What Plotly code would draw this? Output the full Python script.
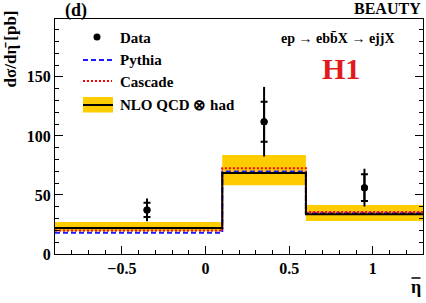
import plotly.graph_objects as go

# ---- data ----
bin_edges = [-0.9, 0.1, 0.6, 1.3]
data_x = [-0.35, 0.35, 0.95]
data_y = [37.3, 112.0, 56.2]
data_stat = [6.0, 17.0, 11.3]
data_tot = [9.6, 29.5, 16.0]
nlo = [22.0, 68.6, 33.6]
nlo_up = [27.2, 83.9, 41.5]
nlo_lo = [19.2, 58.3, 28.0]
pythia = [18.0, 69.8, 34.5]
cascade = [20.0, 72.6, 35.6]

W, H = 426, 303
ML, MR, MT, MB = 55, 3, 19, 49
PW, PH = W - ML - MR, H - MT - MB
FONT = "Liberation Serif"


def step(vals):
    return list(vals) + [vals[-1]]


def px(x):
    return (x - ML) / PW


def py(y):
    return (H - MB - y) / PH


fig = go.Figure()

# NLO uncertainty band
fig.add_trace(go.Scatter(x=bin_edges, y=step(nlo_up), mode="lines", line=dict(width=0, shape="hv", color="#FFCC00"),
                         showlegend=False, hoverinfo="skip"))
fig.add_trace(go.Scatter(x=bin_edges, y=step(nlo_lo), mode="lines", line=dict(width=0, shape="hv", color="#FFCC00"),
                         fill="tonexty", fillcolor="#FFCC00", showlegend=False, hoverinfo="skip"))
# Pythia
fig.add_trace(go.Scatter(x=bin_edges, y=step(pythia), mode="lines",
                         line=dict(color="#1a1aff", width=2, dash="5px,3px", shape="hv"), showlegend=False))
# Cascade
fig.add_trace(go.Scatter(x=bin_edges, y=step(cascade), mode="lines",
                         line=dict(color="#ff0000", width=2, dash="2px,2px", shape="hv"), showlegend=False))
# NLO central
fig.add_trace(go.Scatter(x=bin_edges, y=step(nlo), mode="lines",
                         line=dict(color="black", width=2, shape="hv"), showlegend=False))
# Data: total errors
fig.add_trace(go.Scatter(x=data_x, y=data_y, mode="markers",
                         marker=dict(color="black", size=7),
                         error_y=dict(type="data", array=data_tot, width=0, thickness=2, color="black"),
                         showlegend=False))
# Data: stat errors
fig.add_trace(go.Scatter(x=data_x, y=data_y, mode="markers",
                         marker=dict(color="black", size=7),
                         error_y=dict(type="data", array=data_stat, width=3.5, thickness=2, color="black"),
                         showlegend=False))

tickfont = dict(family=FONT, size=16, color="black", weight="bold")

fig.update_xaxes(range=[-0.9, 1.3], showline=True, linecolor="black", linewidth=1, mirror=True,
                 ticks="inside", ticklen=8, tickcolor="black", dtick=0.5, tick0=0,
                 minor=dict(ticks="inside", ticklen=4, dtick=0.1, tickcolor="black"),
                 showgrid=False, zeroline=False, tickfont=tickfont)
fig.update_yaxes(range=[0, 199], showline=True, linecolor="black", linewidth=1, mirror="allticks",
                 ticks="inside", ticklen=8, tickcolor="black", dtick=50, tick0=0,
                 minor=dict(ticks="inside", ticklen=4, dtick=10, tickcolor="black"),
                 showgrid=False, zeroline=False, tickfont=tickfont)

ann = []
bold = dict(family=FONT, color="black", weight="bold")
ann.append(dict(text="(d)", x=px(63), y=py(10), xanchor="left", yanchor="middle",
                font=dict(size=18, **bold)))
ann.append(dict(text="BEAUTY", x=px(423), y=py(8), xanchor="right", yanchor="middle",
                font=dict(size=16, **bold)))
ann.append(dict(text="ep → ebb\u0304X → ejjX", x=px(338), y=py(38), xanchor="center", yanchor="middle",
                font=dict(size=14, **bold)))
ann.append(dict(text="H1", x=px(340.5), y=py(68), xanchor="center", yanchor="middle",
                font=dict(family=FONT, size=30, color="#e31a1c", weight="bold")))
ann.append(dict(text="\u03b7", x=px(416), y=py(287), xanchor="center", yanchor="middle",
                font=dict(size=18, **bold)))
ann.append(dict(text="dσ/dη\u0304 [pb]", x=px(10), y=py(9), xanchor="center", yanchor="top",
                textangle=-90, font=dict(size=17, **bold)))
# legend texts
leg_text_x = px(118)
ann.append(dict(text="Data", x=leg_text_x, y=py(38), xanchor="left", yanchor="middle", font=dict(size=15, **bold)))
ann.append(dict(text="Pythia", x=leg_text_x, y=py(60), xanchor="left", yanchor="middle", font=dict(size=15, **bold)))
ann.append(dict(text="Cascade", x=leg_text_x, y=py(82), xanchor="left", yanchor="middle", font=dict(size=15, **bold)))
ann.append(dict(text="NLO QCD ⊗ had", x=leg_text_x, y=py(105), xanchor="left", yanchor="middle", font=dict(size=15, **bold)))
for a in ann:
    a.update(xref="paper", yref="paper", showarrow=False)

shapes = [
    # overline of the x-axis title
    dict(type="line", x0=px(411.5), x1=px(420.5), y0=py(278), y1=py(278), line=dict(color="black", width=1.5)),
    # legend symbols
    dict(type="circle", x0=px(93.5), x1=px(100.5), y0=py(40.5), y1=py(33.5), fillcolor="black", line=dict(width=0)),
    dict(type="line", x0=px(83), x1=px(112), y0=py(60), y1=py(60), line=dict(color="#1a1aff", width=2, dash="5px,3px")),
    dict(type="line", x0=px(83), x1=px(112), y0=py(81), y1=py(81), line=dict(color="#ff0000", width=2, dash="2px,2px")),
    dict(type="rect", x0=px(83), x1=px(113), y0=py(112.5), y1=py(97), fillcolor="#FFCC00", line=dict(width=0)),
    dict(type="line", x0=px(83), x1=px(113), y0=py(105), y1=py(105), line=dict(color="black", width=2)),
]
for s in shapes:
    s.update(xref="paper", yref="paper")

fig.update_layout(width=W, height=H, margin=dict(l=ML, r=MR, t=MT, b=MB, pad=0),
                  plot_bgcolor="white", paper_bgcolor="white",
                  annotations=ann, shapes=shapes, showlegend=False,
                  font=dict(family=FONT, color="black"))

fig.write_html("out.html", config={"displayModeBar": False},
               post_script="document.body.style.margin='0';document.body.style.overflow='hidden';")
